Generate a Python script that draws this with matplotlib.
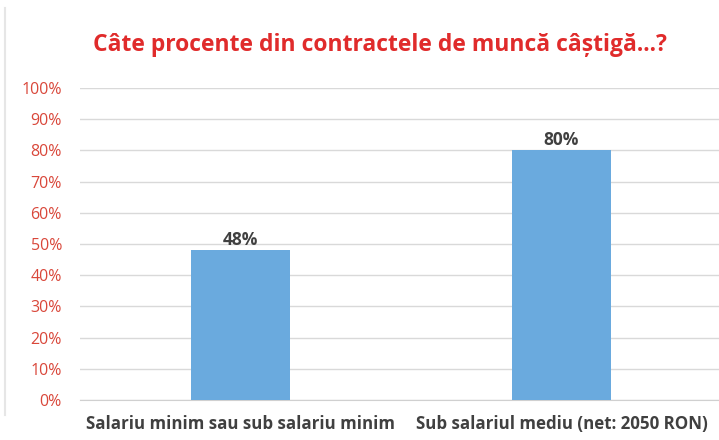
import numpy as np
import matplotlib.pyplot as plt
from matplotlib.lines import Line2D

categories = ["Salariu minim sau sub salariu minim", "Sub salariul mediu (net: 2050 RON)"]
values = [48, 80]
yticks = [0, 10, 20, 30, 40, 50, 60, 70, 80, 90, 100]

plt.rcParams['font.family'] = ['Open Sans', 'DejaVu Sans']

fig = plt.figure(figsize=(7.19, 4.4), dpi=100)
ax = fig.add_axes([80 / 719, 40 / 440, 642 / 719, 312 / 440])

x = np.arange(len(categories))
ax.bar(x, values, width=0.31, color="#6aaade", zorder=3)
for xi, v in zip(x, values):
    ax.text(xi, v + 0.4, f"{v}%", ha="center", va="bottom", fontsize=12.5,
            fontweight="bold", color="#404040")

ax.set_xlim(-0.5, 1.5)
ax.set_ylim(0, 100)
ax.set_yticks(yticks)
ax.set_yticklabels([f"{t}%" for t in yticks], color="#d9473a", fontsize=11.5)
ax.set_xticks(x)
ax.set_xticklabels(categories, fontsize=12.2, fontweight="bold", color="#404040")
ax.tick_params(length=0)
ax.tick_params(axis="y", pad=13)
ax.tick_params(axis="x", pad=11)
ax.grid(axis="y", color="#d9d9d9", linewidth=1, zorder=0)
for s in ["top", "right", "left"]:
    ax.spines[s].set_visible(False)
ax.spines["bottom"].set_color("#d0d0d0")

fig.text(380 / 719, 1 - 45 / 440, "Câte procente din contractele de muncă câștigă...?",
         ha="center", va="center", fontsize=16.5, fontweight="bold", color="#e02b2b")

# faint frame edge on the left
fig.add_artist(Line2D([5 / 719, 5 / 719], [25 / 440, 432 / 440], color="#e6e6e6",
                      linewidth=1.5, transform=fig.transFigure))

fig.savefig("out.png", dpi=100)
